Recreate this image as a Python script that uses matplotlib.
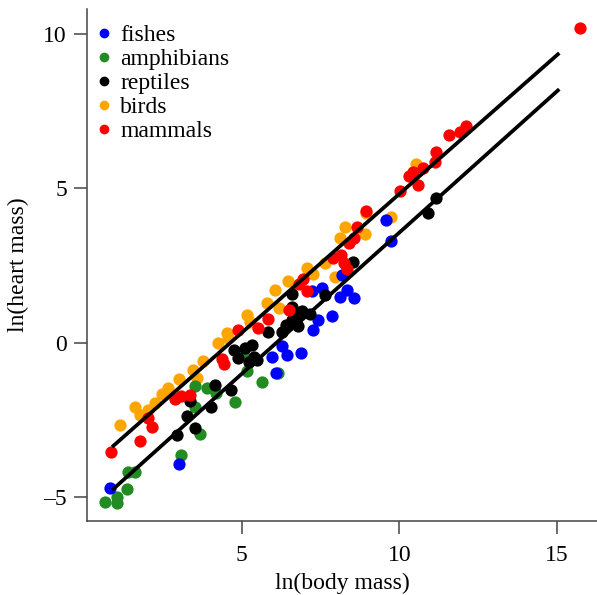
import matplotlib
matplotlib.use('Agg')
import matplotlib.pyplot as plt
from matplotlib.lines import Line2D

plt.rcParams['font.family'] = ['Liberation Serif', 'DejaVu Serif']

# ln(body mass) / ln(heart mass)
fish_x = [0.84, 3.02, 5.97, 6.10, 6.29, 6.45, 6.89, 7.27, 7.43, 7.87, 7.56, 7.24, 8.13, 8.35, 8.57, 8.19, 9.59, 9.74]
fish_y = [-4.70, -3.92, -0.46, -0.98, -0.10, -0.39, -0.33, 0.41, 0.74, 0.87, 1.77, 1.68, 1.48, 1.71, 1.45, 2.20, 3.97, 3.29]

amph_x = [0.68, 1.06, 1.06, 1.38, 1.41, 1.63, 3.09, 3.69, 3.53, 3.53, 3.91, 4.20, 4.80, 5.66, 5.18, 5.05, 6.16]
amph_y = [-5.15, -4.99, -5.18, -4.73, -4.18, -4.18, -3.63, -2.95, -2.08, -1.40, -1.46, -1.62, -1.91, -1.27, -0.91, -0.33, -0.98]

rept_x = [2.96, 3.28, 3.53, 3.37, 4.04, 4.17, 4.67, 4.77, 4.90, 5.12, 5.34, 5.40, 5.24, 5.50, 5.85, 6.29, 6.42, 6.61,
          6.77, 6.92, 7.18, 6.61, 6.61, 6.80, 7.65, 8.54, 10.92, 11.17]
rept_y = [-2.99, -2.37, -2.76, -1.88, -2.08, -1.37, -1.53, -0.23, -0.49, -0.17, -0.07, -0.46, -0.62, -0.56, 0.35, 0.35, 0.58, 0.74,
          0.90, 1.03, 0.93, 1.16, 1.58, 0.54, 1.55, 2.61, 4.20, 4.68]

bird_x = [1.16, 1.63, 1.79, 2.04, 2.26, 2.49, 2.68, 3.02, 3.47, 3.60, 3.79, 4.26, 4.55, 4.58, 5.18, 5.27, 5.81, 6.20,
          6.07, 6.48, 7.08, 7.27, 7.65, 7.97, 8.13, 8.29, 8.92, 8.95, 9.74, 10.54]
bird_y = [-2.66, -2.08, -2.34, -2.17, -1.95, -1.66, -1.46, -1.17, -0.88, -1.14, -0.59, -0.01, 0.32, 0.16, 0.90, 0.67, 1.29, 1.13,
          1.71, 2.00, 2.42, 2.23, 2.58, 2.13, 3.39, 3.75, 3.52, 4.20, 4.07, 5.78]

mamm_x = [0.87, 1.79, 2.17, 2.04, 2.90, 3.09, 3.37, 4.39, 4.45, 4.90, 5.53, 5.85, 6.51, 6.83, 6.96, 7.08, 7.91, 8.16,
          8.25, 8.35, 8.41, 8.57, 8.67, 8.95, 10.03, 10.31, 10.44, 10.60, 10.76, 11.14, 11.17, 11.58, 11.93, 12.12, 15.74]
mamm_y = [-3.53, -3.18, -2.73, -2.43, -1.82, -1.72, -1.69, -0.52, -0.69, 0.41, 0.48, 0.77, 1.06, 1.90, 2.06, 1.68, 2.74, 2.84,
          2.58, 2.39, 3.23, 3.39, 3.75, 4.27, 4.92, 5.40, 5.53, 5.11, 5.66, 5.86, 6.18, 6.73, 6.83, 7.02, 10.18]

groups = ['fishes', 'amphibians', 'reptiles', 'birds', 'mammals']
colors = {'fishes': '#0000ff', 'amphibians': '#228b22', 'reptiles': '#000000',
          'birds': '#ffa500', 'mammals': '#ff0000'}
data = {'fishes': (fish_x, fish_y), 'amphibians': (amph_x, amph_y), 'reptiles': (rept_x, rept_y),
        'birds': (bird_x, bird_y), 'mammals': (mamm_x, mamm_y)}
draw_order = ['birds', 'amphibians', 'fishes', 'reptiles', 'mammals']

# two fitted lines (slope, intercept) over the body mass range
line_x = [0.94, 15.03]
upper_fit = (0.899, -4.18)
lower_fit = (0.915, -5.59)

fig = plt.figure(figsize=(5.97, 5.95), dpi=100)
ax = fig.add_axes([0.1457, 0.1244, 0.8543, 0.8606])

for g in draw_order:
    ax.scatter(data[g][0], data[g][1], s=78, color=colors[g], linewidths=0, zorder=2)

for slope, icpt in [upper_fit, lower_fit]:
    ax.plot(line_x, [slope * v + icpt for v in line_x], color='black', lw=2.7, zorder=3)

ax.set_xlim(0.1, 16.27)
ax.set_ylim(-5.77, 10.8)
ax.set_xticks([5, 10, 15])
ax.set_yticks([-5, 0, 5, 10])
ax.set_yticklabels(['\u20135', '0', '5', '10'])

for side in ['top', 'right']:
    ax.spines[side].set_visible(False)
for side in ['left', 'bottom']:
    ax.spines[side].set_color('#444444')
    ax.spines[side].set_linewidth(1.1)
ax.tick_params(length=9.5, width=1.1, color='#444444', labelsize=17)
ax.tick_params(axis='x', pad=8)
ax.tick_params(axis='y', pad=5)

ax.set_xlabel('ln(body mass)', fontsize=17, labelpad=5)
ax.set_ylabel('ln(heart mass)', fontsize=17, labelpad=10)

handles = [Line2D([], [], marker='o', ls='none', color=colors[g], markersize=7, markeredgewidth=0)
           for g in groups]
ax.legend(handles, groups, loc='upper left', bbox_to_anchor=(0.0, 0.983), frameon=False,
          fontsize=17, handlelength=0.8, handletextpad=0.3, labelspacing=0.1,
          borderpad=0.3, borderaxespad=0.0)

fig.savefig('out.png', dpi=100)
